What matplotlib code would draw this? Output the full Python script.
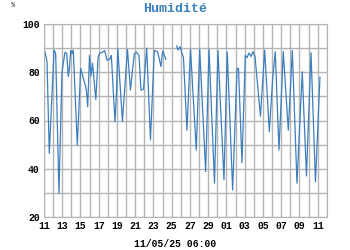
import numpy as np
import pandas as pd
import matplotlib
matplotlib.use('Agg')
import matplotlib.pyplot as plt
import matplotlib.dates as mdates

# days since 11/04/25 00:00, humidity in %
days = [0.0, 0.11, 0.33, 0.58, 1.10, 1.28, 1.64, 1.97, 2.30, 2.49, 2.66, 2.77, 2.93, 3.07, 3.21,
	3.65, 4.02, 4.31, 4.57, 4.66, 4.79, 4.99, 5.15, 5.32, 5.68, 5.94, 6.14, 6.36, 6.65, 6.91,
	7.23, 7.38, 7.78, 7.93, 8.09, 8.60, 9.15, 9.48, 9.70, 9.92, 10.14, 10.41, 10.63, 10.91, 11.26,
	11.67, 12.09, 12.46, 12.82, 13.01, 13.37, 14.0, 14.55, 14.69, 14.91, 15.13, 15.29, 15.67, 16.06,
	16.69, 17.07, 17.72, 18.09, 18.69, 19.07, 19.73, 20.09, 20.68, 21.16, 21.32, 21.70, 22.07, 22.25,
	22.47, 22.69, 22.91, 23.13, 23.73, 24.19, 24.70, 25.07, 25.35, 25.76, 26.23, 26.78, 27.22, 27.73,
	28.31, 28.77, 29.27, 29.76, 30.25]
humid = [89.2, 88.5, 84.4, 46.4, 89.2, 87.8, 29.8, 80.0, 88.3, 87.8, 78.2, 81.0, 89.0, 87.8, 89.2,
	49.8, 81.6, 77.5, 74.0, 72.0, 65.7, 87.0, 78.5, 83.8, 68.7, 86.4, 88.0, 88.2, 89.0, 85.0,
	85.5, 87.0, 59.5, 70.0, 89.8, 59.6, 89.5, 72.6, 81.0, 87.8, 88.3, 87.0, 72.6, 73.0, 90.0,
	52.0, 89.0, 88.5, 82.3, 88.8, 85.4, np.nan, 90.9, 89.2, 90.6, 87.8, 86.0, 56.0, 89.5,
	47.8, 89.5, 38.8, 89.5, 34.0, 89.0, 35.5, 88.3, 31.2, 81.6, 81.6, 42.5, 87.0, 86.0,
	88.0, 86.5, 88.5, 86.5, 61.8, 89.2, 55.4, 77.5, 88.5, 47.8, 88.5, 56.0, 89.0, 34.0,
	80.2, 37.0, 88.1, 34.6, 77.9]

t0 = pd.Timestamp('2025-04-11 00:00')
t = [t0 + pd.Timedelta(days=d) for d in days]

plt.rcParams['font.family'] = ['Liberation Mono', 'DejaVu Sans Mono']
grid_col = '#b4b4b4'

fig = plt.figure(figsize=(3.5, 2.5), dpi=100)
ax = fig.add_axes([0.1257, 0.132, 0.808, 0.772])
ax.plot(t, humid, color='#3d7fbd', lw=0.9)

ax.set_xlim(t0, t0 + pd.Timedelta(days=31))
ax.set_ylim(20, 100)
ax.set_yticks([20, 40, 60, 80, 100])
ax.set_yticks(np.arange(20, 101, 10), minor=True)
ax.xaxis.set_major_locator(mdates.DayLocator(bymonthday=[11, 13, 15, 17, 19, 21, 23, 25, 27, 29, 1, 3, 5, 7, 9]))
ax.xaxis.set_major_formatter(mdates.DateFormatter('%d'))
ax.xaxis.set_minor_locator(mdates.DayLocator())
ax.grid(which='both', color=grid_col, lw=1.0)
ax.set_axisbelow(True)
ax.tick_params(which='both', length=0, labelsize=7, pad=3)
for lab in ax.get_xticklabels() + ax.get_yticklabels():
	lab.set_fontweight('bold')
for s in ax.spines.values():
	s.set_color(grid_col)

fig.text(0.5, 0.966, 'Humidité', ha='center', va='center', color='#3a7fc0',
	fontsize=9.5, fontweight='bold')
fig.text(0.037, 0.978, '%', ha='center', va='center', fontsize=5, color='#333333')
fig.text(0.5, 0.024, '11/05/25 06:00', ha='center', va='center', fontsize=7, fontweight='bold')

fig.savefig('out.png')
